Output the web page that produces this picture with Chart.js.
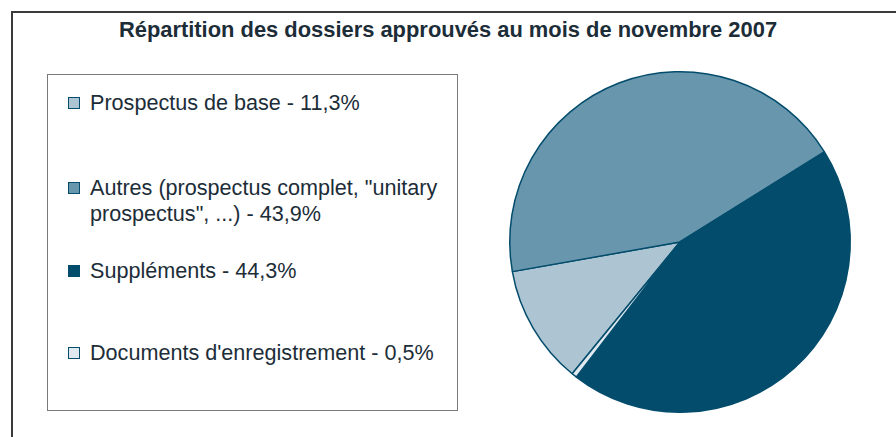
<!DOCTYPE html>
<html><head><meta charset="utf-8">
<script src="https://cdn.jsdelivr.net/npm/chart.js@4.4.0/dist/chart.umd.min.js"></script>
<style>
html,body{margin:0;padding:0;background:#fff;}
#wrap{position:relative;width:896px;height:437px;overflow:hidden;font-family:"Liberation Sans",Arial,sans-serif;}
#frame{position:absolute;left:11px;top:11px;width:900px;height:440px;border-left:2px solid #3a3a3a;border-top:2px solid #3a3a3a;}
#title{position:absolute;left:0;width:896px;top:17px;line-height:26px;text-align:center;font-weight:bold;font-size:21.9px;color:#1c2d38;white-space:nowrap;}
#legend{position:absolute;left:47px;top:74px;width:411px;height:337px;border:1.5px solid #7a7a7a;box-sizing:border-box;}
.item{position:absolute;left:20px;font-size:21.6px;line-height:26px;color:#1c2d38;}
.mk{position:absolute;left:0;top:7px;width:10px;height:10px;border:1.5px solid #034c6c;}
.tx{position:absolute;left:22px;top:0;width:362px;}
#cv{position:absolute;left:0;top:0;}
</style></head>
<body><div id="wrap">
<div id="frame"></div>
<div id="title"></div>
<div id="legend"></div>
<canvas id="cv" width="896" height="437"></canvas>
</div>
<script>
const title = "Répartition des dossiers approuvés au mois de novembre 2007";
const categories = ["Prospectus de base", "Autres (prospectus complet, \"unitary prospectus\", ...)", "Suppléments", "Documents d'enregistrement"];
const values = [11.3, 43.9, 44.3, 0.5];
const colors = ["#adc5d2", "#6897ad", "#034c6c", "#dfe9ef"];
const legendTops = [15, 100, 183, 265];

document.getElementById('title').textContent = title;
const leg = document.getElementById('legend');
categories.forEach((c, i) => {
  const it = document.createElement('div');
  it.className = 'item';
  it.style.top = legendTops[i] + 'px';
  const mk = document.createElement('div');
  mk.className = 'mk';
  mk.style.background = colors[i];
  const tx = document.createElement('div');
  tx.className = 'tx';
  tx.textContent = c + ' - ' + values[i].toFixed(1).replace('.', ',') + '%';
  it.appendChild(mk); it.appendChild(tx);
  leg.appendChild(it);
});

new Chart(document.getElementById('cv'), {
  type: 'pie',
  data: {
    labels: categories,
    datasets: [{
      data: values,
      backgroundColor: colors,
      borderColor: '#034c6c',
      borderWidth: 1.5,
      borderAlign: 'center'
    }]
  },
  options: {
    responsive: false,
    animation: false,
    rotation: 219.3,
    layout: { padding: { left: 509, top: 71, right: 45, bottom: 24 } },
    plugins: { legend: { display: false }, tooltip: { enabled: false }, title: { display: false } }
  }
});
</script>
</body></html>
